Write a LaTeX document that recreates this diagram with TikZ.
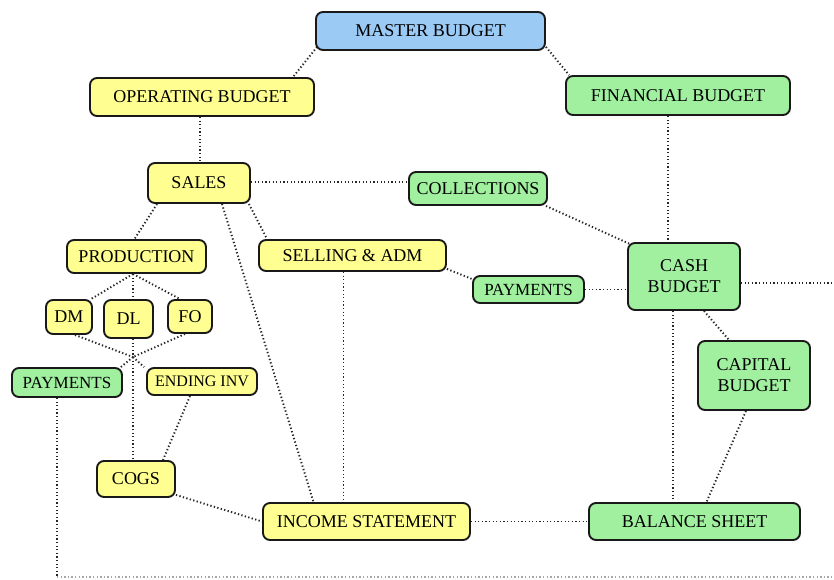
\documentclass[tikz,border=0pt]{standalone}
\usepackage{fontspec}
\setmainfont{Liberation Serif}
\usetikzlibrary{calc,backgrounds}
\definecolor{byel}{RGB}{255,255,145}
\definecolor{bgrn}{RGB}{160,240,160}
\definecolor{bblu}{RGB}{155,202,245}
\begin{document}
\begin{tikzpicture}[x=1pt,y=-1pt,
  box/.style={draw=black!90, line width=1.9pt, rounded corners=7pt, inner sep=0pt, align=center, font=\fontsize{18}{21}\selectfont},
  yel/.style={box, fill=byel},
  grn/.style={box, fill=bgrn},
  blu/.style={box, fill=bblu},
  small/.style={font=\fontsize{17}{19}\selectfont},
  smaller/.style={font=\fontsize{16}{19}\selectfont},
  sz/.style 2 args={minimum width=#1, minimum height=#2},
  dots/.style={line width=1.9pt, dash pattern=on 1.3pt off 2.3pt, black!85},
  faint/.style={line width=1.5pt, dash pattern=on 1.3pt off 2.3pt, black!35}]
\useasboundingbox (0,0) rectangle (834,580);
\begin{scope}[on background layer]
  \fill[white] (0,0) rectangle (834,580);
\end{scope}
% nodes
\node[blu, sz={229}{38}] (master) at (430.5,31) {MASTER BUDGET};
\node[yel, sz={224}{38}] (op) at (202,97) {OPERATING BUDGET};
\node[grn, sz={224}{39}] (fin) at (678,95.5) {FINANCIAL BUDGET};
\node[yel, sz={102}{40}] (sales) at (199,183) {SALES};
\node[grn, sz={138}{33}] (coll) at (478,188.5) {COLLECTIONS};
\node[yel, sz={139}{33}] (prod) at (136.5,256.5) {PRODUCTION};
\node[yel, sz={187}{31}] (sell) at (352.5,255.5) {SELLING \& ADM};
\node[grn, small, sz={111}{27}] (pay2) at (528.5,289.5) {PAYMENTS};
\node[grn, sz={112}{67}] (cash) at (684,276.5) {CASH\\BUDGET};
\node[yel, sz={46}{34}] (dm) at (69,317) {DM};
\node[yel, sz={49}{38}] (dl) at (128.5,319) {DL};
\node[yel, sz={44}{33}] (fo) at (190,316.5) {FO};
\node[grn, small, sz={110}{29}] (pay1) at (67,382.5) {PAYMENTS};
\node[yel, smaller, sz={110}{27}] (endinv) at (202,381.5) {ENDING INV};
\node[grn, sz={112}{69}] (cap) at (754,375.5) {CAPITAL\\BUDGET};
\node[yel, sz={78}{36}] (cogs) at (136,479) {COGS};
\node[yel, sz={207}{37}] (inc) at (366.5,521.5) {INCOME STATEMENT};
\node[grn, sz={211}{37}] (bal) at (694.5,521.5) {BALANCE SHEET};
\coordinate (junc) at (133,357);
\coordinate (redge) at (834,283);
\coordinate (bcorner) at (57,577);
\coordinate (bedge) at (834,577);
% connectors
\begin{scope}[on background layer]
  \draw[dots] ([shift={(2,-4)}]master.south west) -- ([xshift=-22]op.north east);
  \draw[dots] ([shift={(0,-4)}]master.south east) -- ([xshift=4]fin.north west);
  \draw[dots] ([xshift=-2]op.south) -- ([xshift=-2]op.south |- sales.north);
  \draw[dots] ([xshift=-10]fin.south) -- ([xshift=-10]fin.south |- cash.north);
  \draw[dots] ([shift={(0,-1)}]sales.east) -- ([shift={(0,-1)}]sales.east -| coll.west);
  \draw[dots] ([shift={(-2,0)}]coll.south east) -- ([shift={(3,2)}]cash.north west);
  \draw[dots] ([xshift=-42]sales.south) -- ([xshift=-2]prod.north);
  \draw[dots] ([xshift=23]sales.south) -- ([xshift=-53]inc.north);
  \draw[dots] ([xshift=-2]sales.south east) -- ([xshift=9]sell.north west);
  \draw[dots] ([xshift=-9]sell.south) -- ([xshift=-9]sell.south |- inc.north);
  \draw[dots] ([shift={(0,-3)}]sell.south east) -- ([shift={(0,4)}]pay2.north west);
  \draw[dots] (pay2.east) -- (pay2.east -| cash.west);
  \draw[dots] ([shift={(0,6.5)}]cash.east) -- (redge);
  \draw[dots] ([xshift=20]cash.south) -- ([xshift=-25]cap.north);
  \draw[dots] ([xshift=-11]cash.south) -- ([xshift=-11]cash.south |- bal.north);
  \draw[dots] ([xshift=-8]cap.south) -- ([xshift=12]bal.north);
  \draw[dots] (inc.east) -- (bal.west);
  \draw[dots] ([shift={(0,-3)}]cogs.south east) -- (inc.west);
  \draw[dots] ([xshift=-3.5]prod.south) -- ([xshift=4.5]dl.north);
  \draw[dots] ([xshift=4.5]dl.south) -- (junc) -- ([xshift=-3]cogs.north);
  \draw[dots] ([xshift=-3.5]prod.south) -- ([xshift=-2]dm.north east);
  \draw[dots] ([xshift=-3.5]prod.south) -- ([xshift=-10]fo.north);
  \draw[dots] ([xshift=6]dm.south) -- (junc);
  \draw[dots] ([xshift=-5]fo.south) -- (junc);
  \draw[dots] (junc) -- ([xshift=-2]pay1.north east);
  \draw[dots] (junc) -- ([xshift=-2]endinv.north west);
  \draw[dots] ([xshift=-12]endinv.south) -- ([xshift=27]cogs.north);
  \draw[dots] ([xshift=-10]pay1.south) -- (bcorner);
  \draw[faint] (bcorner) -- (bedge);
\end{scope}
\end{tikzpicture}
\end{document}
